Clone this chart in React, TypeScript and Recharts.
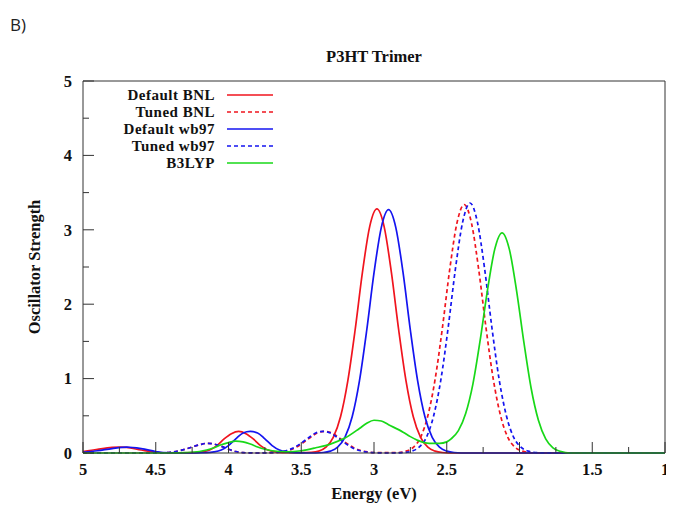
import { LineChart, Line, XAxis, YAxis, Legend, Label } from 'recharts'

// Default BNL (red solid)
const dbnlE = [5.0, 4.9, 4.8, 4.75, 4.7, 4.6, 4.5, 4.4, 4.23, 4.18, 4.13, 4.08, 4.03, 3.98, 3.93, 3.88, 3.83, 3.78, 3.73, 3.68, 3.63, 3.5, 3.43, 3.38, 3.33, 3.28, 3.23, 3.18, 3.13, 3.08, 3.03, 2.98, 2.93, 2.88, 2.83, 2.78, 2.73, 2.68, 2.63, 2.58, 2.53, 2.45, 2.3, 1.0]
const dbnlF = [0.02, 0.05, 0.075, 0.08, 0.075, 0.04, 0.01, 0, 0.004, 0.014, 0.04, 0.1, 0.19, 0.26, 0.29, 0.26, 0.19, 0.1, 0.04, 0.014, 0.006, 0.005, 0.01, 0.025, 0.078, 0.21, 0.487, 0.97, 1.65, 2.42, 3.04, 3.28, 3.04, 2.42, 1.65, 0.97, 0.487, 0.21, 0.078, 0.025, 0.007, 0, 0, 0]

// Tuned BNL (red dashed)
const tbnlE = [5.0, 4.5, 4.4, 4.3, 4.2, 4.15, 4.1, 4.05, 4.0, 3.95, 3.9, 3.8, 3.69, 3.64, 3.59, 3.54, 3.49, 3.44, 3.39, 3.34, 3.29, 3.24, 3.19, 3.14, 3.09, 3.04, 2.99, 2.9, 2.83, 2.78, 2.73, 2.68, 2.63, 2.58, 2.53, 2.48, 2.43, 2.38, 2.33, 2.28, 2.23, 2.18, 2.13, 2.08, 2.03, 1.98, 1.93, 1.85, 1.0]
const tbnlF = [0, 0, 0.01, 0.05, 0.11, 0.13, 0.12, 0.09, 0.05, 0.02, 0.005, 0, 0.004, 0.013, 0.033, 0.072, 0.133, 0.205, 0.27, 0.29, 0.27, 0.205, 0.133, 0.072, 0.033, 0.013, 0.006, 0.004, 0.007, 0.025, 0.077, 0.21, 0.5, 0.99, 1.68, 2.46, 3.09, 3.34, 3.09, 2.46, 1.68, 0.99, 0.5, 0.21, 0.077, 0.025, 0.007, 0, 0]

// Default wb97 (blue solid)
const dwbE = [5.0, 4.9, 4.8, 4.7, 4.6, 4.5, 4.45, 4.3, 4.15, 4.1, 4.05, 4.0, 3.95, 3.9, 3.85, 3.8, 3.75, 3.7, 3.65, 3.6, 3.55, 3.45, 3.35, 3.3, 3.25, 3.2, 3.15, 3.1, 3.05, 3.0, 2.95, 2.9, 2.85, 2.8, 2.75, 2.7, 2.65, 2.6, 2.55, 2.5, 2.45, 2.35, 1.0]
const dwbF = [0.01, 0.03, 0.06, 0.08, 0.06, 0.02, 0.005, 0, 0.004, 0.014, 0.04, 0.1, 0.19, 0.27, 0.29, 0.27, 0.19, 0.1, 0.04, 0.014, 0.004, 0, 0.007, 0.025, 0.078, 0.21, 0.487, 0.97, 1.65, 2.42, 3.03, 3.27, 3.03, 2.42, 1.65, 0.97, 0.487, 0.21, 0.078, 0.025, 0.007, 0, 0]

// Tuned wb97 (blue dashed)
const twbE = [5.0, 4.5, 4.4, 4.3, 4.2, 4.15, 4.1, 4.05, 4.0, 3.95, 3.9, 3.8, 3.7, 3.65, 3.6, 3.55, 3.5, 3.45, 3.4, 3.35, 3.3, 3.25, 3.2, 3.15, 3.1, 3.05, 3.0, 2.9, 2.79, 2.74, 2.69, 2.64, 2.59, 2.54, 2.49, 2.44, 2.39, 2.34, 2.29, 2.24, 2.19, 2.14, 2.09, 2.04, 1.99, 1.94, 1.89, 1.8, 1.0]
const twbF = [0, 0, 0.01, 0.05, 0.11, 0.13, 0.12, 0.09, 0.05, 0.02, 0.005, 0, 0.005, 0.013, 0.033, 0.072, 0.133, 0.205, 0.27, 0.29, 0.27, 0.205, 0.133, 0.072, 0.033, 0.013, 0.004, 0, 0.007, 0.025, 0.078, 0.21, 0.5, 0.99, 1.69, 2.48, 3.11, 3.36, 3.11, 2.48, 1.69, 0.99, 0.5, 0.21, 0.078, 0.025, 0.007, 0, 0]

// B3LYP (green)
const b3E = [5.0, 4.4, 4.3, 4.2, 4.15, 4.1, 4.05, 4.0, 3.95, 3.9, 3.85, 3.8, 3.75, 3.7, 3.6, 3.5, 3.4, 3.3, 3.2, 3.1, 3.05, 3.0, 2.95, 2.9, 2.8, 2.75, 2.7, 2.62, 2.55, 2.5, 2.47, 2.42, 2.37, 2.32, 2.27, 2.22, 2.17, 2.12, 2.07, 2.02, 1.97, 1.92, 1.87, 1.82, 1.77, 1.72, 1.65, 1.0]
const b3F = [0, 0, 0.005, 0.02, 0.04, 0.07, 0.11, 0.14, 0.16, 0.15, 0.12, 0.08, 0.05, 0.03, 0.015, 0.03, 0.07, 0.12, 0.2, 0.33, 0.4, 0.44, 0.43, 0.38, 0.28, 0.22, 0.17, 0.13, 0.13, 0.15, 0.19, 0.3, 0.53, 0.93, 1.52, 2.19, 2.74, 2.96, 2.74, 2.18, 1.49, 0.87, 0.44, 0.19, 0.07, 0.022, 0, 0]

const xTicks = [5, 4.75, 4.5, 4.25, 4, 3.75, 3.5, 3.25, 3, 2.75, 2.5, 2.25, 2, 1.75, 1.5, 1.25, 1]
const yTicks = [0, 0.5, 1, 1.5, 2, 2.5, 3, 3.5, 4, 4.5, 5]

const series = [
  { name: 'Default BNL', e: dbnlE, f: dbnlF, color: '#f0141e', dash: undefined },
  { name: 'Tuned BNL', e: tbnlE, f: tbnlF, color: '#f0141e', dash: '4 3' },
  { name: 'Default wb97', e: dwbE, f: dwbF, color: '#1414f0', dash: undefined },
  { name: 'Tuned wb97', e: twbE, f: twbF, color: '#1414f0', dash: '4 3' },
  { name: 'B3LYP', e: b3E, f: b3F, color: '#18d818', dash: undefined },
]

const W = 666
const H = 495
// plot box inside the svg
const PL = 75
const PR = 657
const PT = 73
const PB = 445
const AXIS = '#333'
const font = { fontFamily: '"Liberation Serif", "Times New Roman", serif', fontWeight: 700, fontSize: 16.5, fill: '#111' }

const isMajor = (v: number, step: number) => Math.abs(v / step - Math.round(v / step)) < 1e-6

function BottomTick(props: any) {
  const { x, payload } = props
  const major = isMajor(payload.value, 0.5)
  return (
    <g>
      <line x1={x} x2={x} y1={PB} y2={PB - (major ? 11 : 6)} stroke={AXIS} />
      {major && (
        <text x={x} y={PB + 16} dy="0.35em" textAnchor="middle" {...font}>
          {String(payload.value)}
        </text>
      )}
    </g>
  )
}

function TopTick(props: any) {
  const { x, payload } = props
  const major = isMajor(payload.value, 0.5)
  return <line x1={x} x2={x} y1={PT} y2={PT + (major ? 11 : 6)} stroke={AXIS} />
}

function LeftTick(props: any) {
  const { y, payload } = props
  const major = isMajor(payload.value, 1)
  return (
    <g>
      <line x1={PL} x2={PL + (major ? 11 : 6)} y1={y} y2={y} stroke={AXIS} />
      {major && (
        <text x={PL - 11} y={y} dy="0.35em" textAnchor="end" {...font}>
          {String(payload.value)}
        </text>
      )}
    </g>
  )
}

function RightTick(props: any) {
  const { y, payload } = props
  const major = isMajor(payload.value, 1)
  return <line x1={PR} x2={PR - (major ? 11 : 6)} y1={y} y2={y} stroke={AXIS} />
}

function LegendBox() {
  return (
    <svg width={200} height={96}>
      {series.map((s, i) => (
        <g key={s.name}>
          <text x={127} y={12 + i * 17} dy="0.35em" textAnchor="end" {...font} fontSize={15} letterSpacing={0.5}>
            {s.name}
          </text>
          <line x1={139} x2={185} y1={12 + i * 17} y2={12 + i * 17} stroke={s.color} strokeWidth={1.7} strokeDasharray={s.dash} />
        </g>
      ))}
    </svg>
  )
}

export default function App() {
  return (
    <div style={{ position: 'relative', width: W, height: H, background: '#fff' }}>
      <div style={{ position: 'absolute', left: 2, top: 7, fontFamily: '"Open Sans", sans-serif', fontSize: 17, lineHeight: '20px', color: '#222' }}>
        B)
      </div>
      <div
        style={{
          position: 'absolute',
          left: 266,
          top: 40,
          width: 200,
          textAlign: 'center',
          fontFamily: font.fontFamily,
          fontWeight: 700,
          fontSize: 16.5,
          lineHeight: '18px',
          color: '#111',
        }}
      >
        P3HT Trimer
      </div>
      <LineChart width={W} height={H} margin={{ top: 72, right: 8, bottom: 0, left: 5 }}>
        <XAxis
          dataKey="e"
          type="number"
          domain={[1, 5]}
          reversed
          ticks={xTicks}
          interval={0}
          height={50}
          tickLine={false}
          axisLine={{ stroke: AXIS }}
          tick={BottomTick}
        >
          <Label value="Energy (eV)" position="insideBottom" offset={4} {...font} />
        </XAxis>
        <XAxis
          xAxisId="top"
          orientation="top"
          dataKey="e"
          type="number"
          domain={[1, 5]}
          reversed
          ticks={xTicks}
          interval={0}
          height={1}
          tickLine={false}
          axisLine={{ stroke: AXIS }}
          tick={TopTick}
        />
        <YAxis
          type="number"
          domain={[0, 5]}
          ticks={yTicks}
          interval={0}
          width={70}
          tickLine={false}
          axisLine={{ stroke: AXIS }}
          tick={LeftTick}
        >
          <Label value="Oscillator Strength" angle={-90} position="insideLeft" offset={21} style={{ textAnchor: 'middle' }} {...font} />
        </YAxis>
        <YAxis
          yAxisId="right"
          orientation="right"
          type="number"
          domain={[0, 5]}
          ticks={yTicks}
          interval={0}
          width={1}
          tickLine={false}
          axisLine={{ stroke: AXIS }}
          tick={RightTick}
        />
        <Legend
          layout="vertical"
          align="center"
          verticalAlign="middle"
          wrapperStyle={{ left: 80, top: 75, width: 200, height: 96 }}
          content={LegendBox}
        />
        {series.map((s) => (
          <Line
            key={s.name}
            data={s.e.map((e, i) => ({ e, f: s.f[i] }))}
            dataKey="f"
            name={s.name}
            type="monotone"
            stroke={s.color}
            strokeWidth={1.7}
            strokeDasharray={s.dash}
            dot={false}
            activeDot={false}
            isAnimationActive={false}
          />
        ))}
      </LineChart>
    </div>
  )
}
